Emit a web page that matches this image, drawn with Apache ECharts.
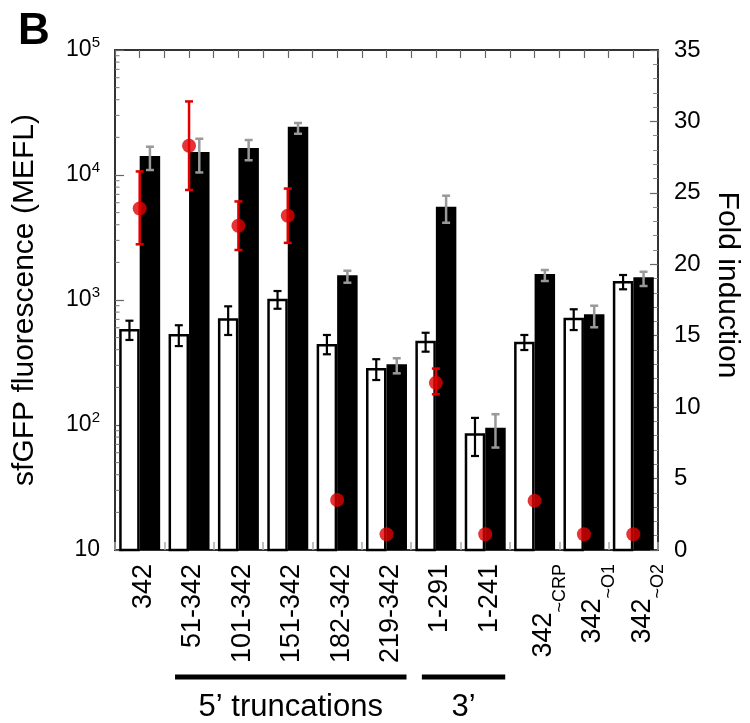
<!DOCTYPE html>
<html>
<head>
<meta charset="utf-8">
<script src="https://cdn.jsdelivr.net/npm/echarts@6/dist/echarts.min.js"></script>
<style>
  html, body { margin: 0; padding: 0; background: #fff; }
  #chart { width: 750px; height: 723px; }
</style>
</head>
<body>
<div id="chart"></div>
<script>
// Promoter constructs (a "~" marks a mutated site, drawn as a subscript)
const categories = ['342', '51-342', '101-342', '151-342', '182-342', '219-342',
                    '1-291', '1-241', '342~CRP', '342~O1', '342~O2'];

// sfGFP fluorescence (MEFL), uninduced (white bars)
const uninduced   = [586, 535, 714, 1024, 445, 286, 472, 86, 463, 722, 1419];
const uninducedLo = [479, 428, 525, 851, 368, 229, 386, 56.5, 398, 575, 1218];
const uninducedHi = [683, 628, 890, 1180, 525, 336, 547, 114, 525, 843, 1585];

// sfGFP fluorescence (MEFL), induced (black bars)
const induced   = [14190, 15280, 16440, 24340, 1577, 306, 5575, 95, 1614, 769, 1520];
const inducedLo = [10960, 10480, 13120, 21380, 1375, 259, 4150, 66, 1419, 605, 1294];
const inducedHi = [16840, 19500, 19050, 26060, 1715, 342, 6830, 122, 1738, 900, 1682];

// Fold induction (red points, right axis); null = no error bar
const fold   = [23.9, 28.3, 22.7, 23.4, 3.5, 1.1, 11.7, 1.1, 3.45, 1.1, 1.1];
const foldLo = [21.4, 25.2, 21.0, 21.5, null, null, 10.9, null, null, null, null];
const foldHi = [26.5, 31.4, 24.4, 25.3, null, null, 12.7, null, null, null, null];

// Axis settings
const logMin = 10, logMax = 100000;
const foldMin = 0, foldMax = 35, foldStep = 5;

// Category groups drawn as brackets under the axis labels
const groups = [
  { label: '5\u2019 truncations', from: 1, to: 5 },
  { label: '3\u2019', from: 6, to: 7 }
];

const FONT = '"Liberation Sans", Arial, Helvetica, sans-serif';
const GAP = 0.17;
const AXIS_COLOR = '#333';
const RED = '#e00000';

const chart = echarts.init(document.getElementById('chart'), null, { renderer: 'canvas' });

function rangeData(lo, hi) {
  const out = [];
  lo.forEach((v, i) => { if (v != null && hi[i] != null) out.push([i, v, hi[i]]); });
  return out;
}

// Vertical error bar with caps; shift = -1 / 0 / +1 selects left bar, center, right bar
function errorBars(yAxisIndex, data, shift, color, width, z) {
  return {
    type: 'custom',
    xAxisIndex: 0,
    yAxisIndex: yAxisIndex,
    z: z,
    silent: true,
    encode: { x: 0, y: [1, 2] },
    data: data,
    renderItem(params, api) {
      const i = api.value(0);
      const lo = api.coord([i, api.value(1)]);
      const hi = api.coord([i, api.value(2)]);
      const band = api.size([1, 0])[0];
      const x = lo[0] + shift * band * (1 - GAP) / 4;
      const cap = 4;
      const style = { stroke: color, lineWidth: width };
      return {
        type: 'group',
        children: [
          { type: 'line', shape: { x1: x, y1: lo[1], x2: x, y2: hi[1] }, style },
          { type: 'line', shape: { x1: x - cap, y1: lo[1], x2: x + cap, y2: lo[1] }, style },
          { type: 'line', shape: { x1: x - cap, y1: hi[1], x2: x + cap, y2: hi[1] }, style }
        ]
      };
    }
  };
}

// Minor ticks of the log axis at 2..9 x each decade
const logMinorTicks = [];
for (let d = Math.log10(logMin); d < Math.log10(logMax); d++) {
  for (let k = 2; k <= 9; k++) logMinorTicks.push([0, k * Math.pow(10, d)]);
}

function superscriptLabel(v) {
  const n = Math.round(Math.log10(v));
  return n === 1 ? '{b|10}' : '{b|10}{e|' + n + '}';
}

function categoryLabel(v) {
  const parts = v.split('~');
  return parts.length > 1 ? '{mm|' + parts[0] + '}{s|~' + parts[1] + '}' : '{m|' + v + '}';
}

chart.setOption({
  animation: false,
  backgroundColor: '#fff',
  textStyle: { fontFamily: FONT },
  grid: { left: 115, top: 50, width: 553, height: 500, containLabel: false },
  xAxis: [
    {
      type: 'category',
      data: categories,
      position: 'bottom',
      axisLine: { lineStyle: { color: AXIS_COLOR, width: 2 } },
      axisTick: { show: true, inside: true, length: 8, lineStyle: { color: '#aaa', width: 1.5 } },
      axisLabel: {
        rotate: 90,
        margin: 14,
        interval: 0,
        formatter: categoryLabel,
        rich: {
          m: { fontSize: 27, color: '#000', fontFamily: FONT, padding: [8, 0, 0, 0] },
          mm: { fontSize: 27, color: '#000', fontFamily: FONT, padding: [18, 0, 0, 0] },
          s: { fontSize: 18, color: '#000', fontFamily: FONT, padding: [50, 0, 0, 0] }
        }
      }
    },
    {
      type: 'value',
      position: 'top',
      min: 0, max: categories.length * 2, interval: 1,
      axisLine: { show: true, lineStyle: { color: AXIS_COLOR, width: 2 } },
      axisTick: { show: true, inside: true, length: 8, lineStyle: { color: '#666', width: 1.2 } },
      axisLabel: { show: false },
      splitLine: { show: false }
    }
  ],
  yAxis: [
    {
      type: 'log',
      logBase: 10,
      min: logMin, max: logMax,
      position: 'left',
      name: 'sfGFP fluorescence (MEFL)',
      nameLocation: 'middle',
      nameRotate: 90,
      nameGap: 75,
      nameTextStyle: { fontSize: 30, color: '#000', fontFamily: FONT },
      axisLine: { show: true, lineStyle: { color: AXIS_COLOR, width: 2 } },
      axisTick: { show: true, inside: true, length: 9, lineStyle: { color: '#666', width: 1.2 } },
      axisLabel: {
        margin: 15,
        formatter: superscriptLabel,
        rich: {
          b: { fontSize: 23, color: '#000', fontFamily: FONT },
          e: { fontSize: 15, color: '#000', fontFamily: FONT, padding: [0, 0, 14, 0] }
        }
      },
      splitLine: { show: false }
    },
    {
      type: 'value',
      min: foldMin, max: foldMax, interval: foldStep,
      position: 'right',
      name: 'Fold induction',
      nameLocation: 'middle',
      nameRotate: -90,
      nameGap: 54,
      nameTextStyle: { fontSize: 30, color: '#000', fontFamily: FONT, padding: [0, 30, 0, 0] },
      axisLine: { show: true, lineStyle: { color: AXIS_COLOR, width: 2 } },
      axisTick: { show: true, inside: true, length: 8, lineStyle: { color: '#666', width: 1.2 } },
      minorTick: { show: true, splitNumber: 5, length: 5, lineStyle: { color: '#888', width: 1 } },
      axisLabel: { margin: 16, fontSize: 24, color: '#000', fontFamily: FONT },
      splitLine: { show: false }
    }
  ],
  series: [
    {
      type: 'bar', name: 'uninduced', xAxisIndex: 0, yAxisIndex: 0,
      data: uninduced, clip: true,
      barGap: '0%', barCategoryGap: (GAP * 100) + '%',
      itemStyle: { color: '#fff', borderColor: '#000', borderWidth: 2.5 },
      z: 2
    },
    {
      type: 'bar', name: 'induced', xAxisIndex: 0, yAxisIndex: 0,
      data: induced, clip: true,
      barGap: '0%', barCategoryGap: (GAP * 100) + '%',
      itemStyle: { color: '#000' },
      z: 2
    },
    errorBars(0, rangeData(uninducedLo, uninducedHi), -1, '#000', 2.2, 4),
    errorBars(0, rangeData(inducedLo, inducedHi), 1, '#999', 2.5, 4),
    errorBars(1, rangeData(foldLo, foldHi), 0, RED, 2.5, 5),
    {
      type: 'scatter', name: 'fold induction', xAxisIndex: 0, yAxisIndex: 1,
      data: fold, symbol: 'circle', symbolSize: 14,
      itemStyle: { color: RED },
      z: 6
    },
    {
      type: 'custom', xAxisIndex: 0, yAxisIndex: 0, z: 3, silent: true,
      encode: { x: 0, y: 1 },
      data: logMinorTicks,
      renderItem(params, api) {
        const p = api.coord([0, api.value(1)]);
        const x = params.coordSys.x;
        return { type: 'line', shape: { x1: x, y1: p[1], x2: x + 4.5, y2: p[1] },
                 style: { stroke: '#777', lineWidth: 1 } };
      }
    }
  ]
});

// Panel letter and group brackets placed from the laid-out category axis
const base = chart.convertToPixel({ yAxisIndex: 0 }, logMin);
const graphics = [{
  type: 'text', left: 18, top: 10,
  style: { text: 'B', font: 'bold 44px ' + FONT, fill: '#000' }
}];
groups.forEach(g => {
  const x1 = chart.convertToPixel({ xAxisIndex: 0 }, g.from) - 14;
  const x2 = chart.convertToPixel({ xAxisIndex: 0 }, g.to) + 20;
  const yLine = base + 127;
  graphics.push({
    type: 'rect', shape: { x: x1, y: yLine - 2.5, width: x2 - x1, height: 5 },
    style: { fill: '#000' }
  });
  graphics.push({
    type: 'text', x: (x1 + x2) / 2, y: yLine + 30,
    style: { text: g.label, font: '31px ' + FONT, fill: '#000', align: 'center', verticalAlign: 'middle' }
  });
});
chart.setOption({ graphic: graphics });
</script>
</body>
</html>
